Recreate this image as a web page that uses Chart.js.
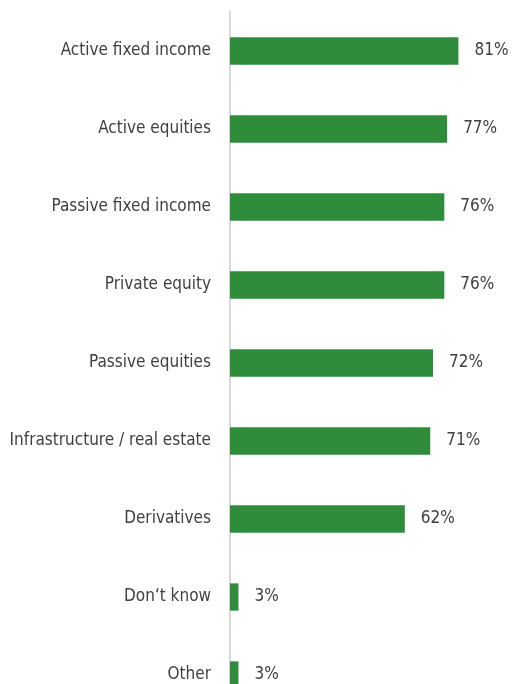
<!DOCTYPE html>
<html>
<head>
<meta charset="utf-8">
<script src="https://cdn.jsdelivr.net/npm/chart.js@4/dist/chart.umd.min.js"></script>
<style>
  html, body { margin: 0; padding: 0; background: #fff; overflow: hidden; }
  canvas { display: block; }
</style>
</head>
<body>
<canvas id="chart" width="512" height="714"></canvas>
<script>
const categories = [
  'Active fixed income',
  'Active equities',
  'Passive fixed income',
  'Private equity',
  'Passive equities',
  'Infrastructure / real estate',
  'Derivatives',
  'Don\u2018t know',
  'Other'
];
const shares = [81, 77, 76, 76, 72, 71, 62, 3, 3];

const FONT = '"Liberation Sans Narrow", "Arial Narrow", "DejaVu Sans Condensed", sans-serif';
const TEXT = '#404040';

// percentage labels just past the end of each bar
const valueLabels = {
  id: 'valueLabels',
  afterDatasetsDraw(chart) {
    const ctx = chart.ctx;
    const meta = chart.getDatasetMeta(0);
    ctx.save();
    ctx.font = '17px ' + FONT;
    ctx.fillStyle = TEXT;
    ctx.textAlign = 'left';
    ctx.textBaseline = 'middle';
    meta.data.forEach((bar, i) => {
      ctx.fillText(shares[i] + '%', bar.x + 16, bar.y);
    });
    ctx.restore();
  }
};

const chart = new Chart(document.getElementById('chart'), {
  type: 'bar',
  data: {
    labels: categories,
    datasets: [{
      data: shares,
      backgroundColor: '#2f8c3a',
      borderWidth: 0,
      barPercentage: 0.35,
      categoryPercentage: 1
    }]
  },
  plugins: [valueLabels],
  options: {
    indexAxis: 'y',
    responsive: false,
    animation: false,
    layout: { padding: { top: 12, right: 0, bottom: 0, left: 0 } },
    plugins: {
      legend: { display: false },
      tooltip: { enabled: false }
    },
    scales: {
      x: {
        display: false,
        min: 0,
        max: 100
      },
      y: {
        // fixed label column, no extra padding above/below the bands
        afterFit(scale) {
          scale.width = 230;
          scale.paddingTop = 0;
          scale.paddingBottom = 0;
        },
        grid: { display: false, drawTicks: false },
        border: { display: true, color: '#d9d9d9', width: 2 },
        ticks: {
          padding: 19,
          color: TEXT,
          font: { family: FONT, size: 17 }
        }
      }
    }
  }
});
</script>
</body>
</html>
